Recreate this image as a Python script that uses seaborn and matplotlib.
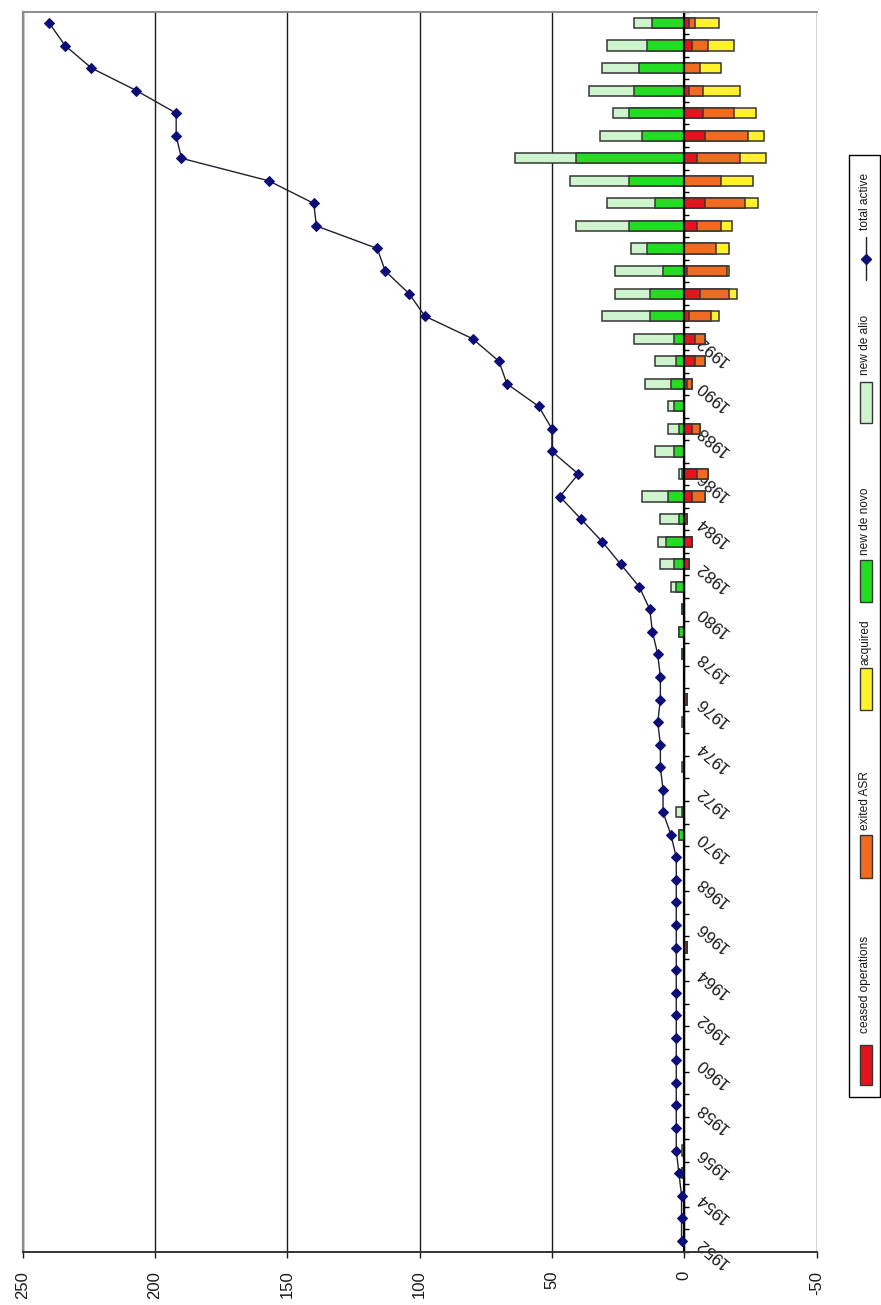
import numpy as np
import matplotlib
matplotlib.use("Agg")
import matplotlib.pyplot as plt
from matplotlib import font_manager
from matplotlib.patches import Rectangle
from matplotlib.lines import Line2D
import seaborn as sns

# years on the category axis (chart is turned 90 degrees)
years = list(range(1952, 2007))

total_active = [1, 1, 1, 2, 3, 3, 3, 3, 3, 3,
                3, 3, 3, 3, 3, 3, 3, 3, 5, 8,
                8, 9, 9, 10, 9, 9, 10, 12, 13, 17,
                24, 31, 39, 47, 40, 50, 50, 55, 67, 70,
                80, 98, 104, 113, 116, 139, 140, 157, 190, 192,
                192, 207, 224, 234, 240]

new_de_novo = [0, 0, 0, 1, 0, 0, 0, 0, 0, 0,
               0, 0, 0, 0, 0, 0, 0, 0, 2, 1,
               0, 0, 0, 0, 0, 0, 1, 2, 1, 3,
               4, 7, 2, 6, 1, 4, 2, 4, 5, 3,
               4, 13, 13, 8, 14, 21, 11, 21, 41, 16,
               21, 19, 17, 14, 12]

new_de_alio = [0, 0, 0, 0, 1, 0, 0, 0, 0, 0,
               0, 0, 0, 0, 0, 0, 0, 0, 0, 2,
               0, 1, 0, 1, 0, 0, 0, 0, 0, 2,
               5, 3, 7, 10, 1, 7, 4, 2, 10, 8,
               15, 18, 13, 18, 6, 20, 18, 22, 23, 16,
               6, 17, 14, 15, 7]

ceased_operations = [0, 0, 0, 0, 0, 0, 0, 0, 0, 0,
                     0, 0, 0, 1, 0, 0, 0, 0, 0, 0,
                     0, 0, 0, 0, 1, 0, 0, 0, 0, 0,
                     2, 3, 1, 3, 5, 0, 3, 0, 1, 4,
                     4, 2, 6, 1, 0, 5, 8, 0, 5, 8,
                     7, 2, 0, 3, 2]

exited_asr = [0, 0, 0, 0, 0, 0, 0, 0, 0, 0,
              0, 0, 0, 0, 0, 0, 0, 0, 0, 0,
              0, 0, 0, 0, 0, 0, 0, 0, 0, 0,
              0, 0, 0, 5, 4, 0, 3, 0, 2, 4,
              4, 8, 11, 15, 12, 9, 15, 14, 16, 16,
              12, 5, 6, 6, 2]

acquired = [0, 0, 0, 0, 0, 0, 0, 0, 0, 0,
            0, 0, 0, 0, 0, 0, 0, 0, 0, 0,
            0, 0, 0, 0, 0, 0, 0, 0, 0, 0,
            0, 0, 0, 0, 0, 0, 0, 0, 0, 0,
            0, 3, 3, 1, 5, 4, 5, 12, 10, 6,
            8, 14, 8, 10, 9]

value_ticks = [-50, 0, 50, 100, 150, 200, 250]
labelled_years = list(range(1952, 1993, 2))
legend_labels = ["ceased operations", "exited ASR", "acquired",
                 "new de novo", "new de alio", "total active"]

col_ceased = "#e3141b"
col_exited = "#f06a1f"
col_acq = "#fff22c"
col_novo = "#22dd22"
col_alio = "#cdf4cd"
col_edge = "#363636"
col_marker = "#0d0d78"

sns.set_style("white")
installed = {f.name for f in font_manager.fontManager.ttflist}
if "Liberation Sans Narrow" in installed:
    plt.rcParams["font.family"] = ["Liberation Sans Narrow", "DejaVu Sans"]
    tick_fs, year_fs, leg_fs = 14.5, 14.5, 10.5
else:
    plt.rcParams["font.family"] = ["Liberation Sans", "DejaVu Sans"]
    tick_fs, year_fs, leg_fs = 12, 12, 8.6

W, H = 881, 1305
fig = plt.figure(figsize=(W / 100, H / 100), dpi=100)
ax = fig.add_axes([22.7 / W, 53 / H, (816.5 - 22.7) / W, (1252 - 11.7) / H])

# stacked bars: outer layers first, inner ones on top
pos_outer = np.array(new_de_novo) + np.array(new_de_alio)
neg_1 = -np.array(ceased_operations)
neg_2 = neg_1 - np.array(exited_asr)
neg_3 = neg_2 - np.array(acquired)
layers = [(pos_outer, col_alio), (np.array(new_de_novo), col_novo),
          (neg_3, col_acq), (neg_2, col_exited), (neg_1, col_ceased)]
for vals, col in layers:
    sns.barplot(x=vals, y=years, orient="y", native_scale=True, width=0.45,
                color=col, edgecolor=col_edge, linewidth=1.1, saturation=1,
                errorbar=None, ax=ax)

sns.lineplot(x=total_active, y=years, orient="y", sort=False, estimator=None,
             color="#202030", linewidth=1.0, marker="D", markersize=5.2,
             markerfacecolor=col_marker, markeredgecolor=col_marker,
             ax=ax, zorder=3)

ax.set_xlim(250, -50)
ax.set_ylim(1951.5, 2006.5)
ax.set_xlabel("")
ax.set_ylabel("")

ax.set_xticks(value_ticks)
ax.set_xticklabels([str(v) for v in value_ticks])
ax.xaxis.grid(True, color="#1a1a1a", linewidth=1.0)
ax.yaxis.grid(False)
ax.set_axisbelow(True)
ax.tick_params(axis="x", which="major", bottom=True, top=False, length=4.5,
               width=1, direction="out", pad=9, labelsize=tick_fs,
               labelrotation=90, colors="#1a1a1a")

# category axis sits on the zero line
ax.spines["right"].set_position(("data", 0))
ax.spines["right"].set_color("black")
ax.spines["right"].set_linewidth(1.6)
ax.spines["left"].set_color("#8c8c8c")
ax.spines["left"].set_linewidth(1.6)
ax.spines["top"].set_color("#8c8c8c")
ax.spines["top"].set_linewidth(1.4)
ax.spines["bottom"].set_color("#333333")
ax.spines["bottom"].set_linewidth(1.4)

ax.yaxis.set_ticks_position("right")
ax.set_yticks(labelled_years)
ax.set_yticklabels([str(y) for y in labelled_years])
ax.set_yticks(np.arange(years[0] - 0.5, years[-1] + 1, 1.0), minor=True)
ax.tick_params(axis="y", which="major", length=0, pad=10, labelsize=year_fs,
               colors="#1a1a1a")
ax.tick_params(axis="y", which="minor", length=3.5, width=1,
               direction="out", color="black")
plt.setp(ax.get_yticklabels(), rotation=140, rotation_mode="anchor",
         ha="right", va="center")


# legend, drawn by hand with upright (rotated) text
def fx(px):
    return px / W


def fy(py):
    return 1 - py / H


fig.add_artist(Rectangle((fx(849), fy(1097)), fx(880) - fx(849),
                         fy(155) - fy(1097), transform=fig.transFigure,
                         fill=False, edgecolor="black", linewidth=1.0))
key_spans = [(1085, 1045), (878, 835), (710, 668), (602, 560), (423, 382), (280, 237)]
text_starts = [1033, 830, 665, 555, 375, 230]
key_colors = [col_ceased, col_exited, col_acq, col_novo, col_alio, None]
for label, (kb, kt), ts, kc in zip(legend_labels, key_spans, text_starts, key_colors):
    if kc is not None:
        fig.add_artist(Rectangle((fx(860), fy(kb)), fx(872) - fx(860),
                                 fy(kt) - fy(kb), transform=fig.transFigure,
                                 facecolor=kc, edgecolor=col_edge, linewidth=1.0))
    else:
        fig.add_artist(Line2D([fx(866), fx(866)], [fy(kb), fy(kt)],
                              transform=fig.transFigure, color="#202030",
                              linewidth=1.0))
        fig.add_artist(Line2D([fx(866)], [fy((kb + kt) / 2)],
                              transform=fig.transFigure, marker="D",
                              markersize=5.2, color=col_marker, linestyle="none"))
    fig.text(fx(865), fy(ts), label, rotation=90, ha="center", va="bottom",
             fontsize=leg_fs, color="#1a1a1a")

fig.savefig("out.png", dpi=100)
